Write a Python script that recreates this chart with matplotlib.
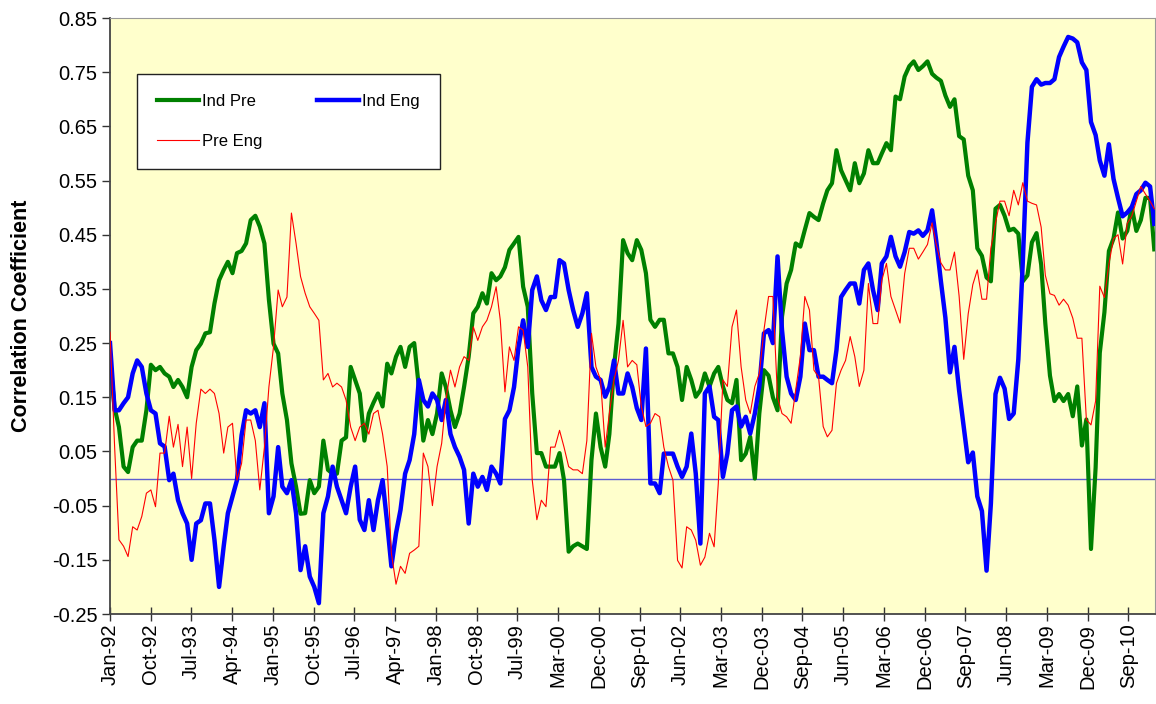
import matplotlib
matplotlib.use('Agg')
import matplotlib.pyplot as plt
import matplotlib.dates as mdates
import matplotlib.ticker as mticker
import pandas as pd

plt.rcParams['font.family'] = ['Liberation Sans', 'DejaVu Sans']

# monthly readings, Jan-92 .. Mar-11 (12 per line = one year)
ind_pre = [
    0.22, 0.13, 0.095, 0.022, 0.012, 0.058, 0.07, 0.07, 0.126, 0.21, 0.2, 0.206,
    0.194, 0.188, 0.169, 0.182, 0.169, 0.15, 0.206, 0.237, 0.249, 0.268, 0.27, 0.323,
    0.366, 0.385, 0.40, 0.379, 0.416, 0.42, 0.434, 0.477, 0.485, 0.465, 0.434, 0.33,
    0.249, 0.231, 0.157, 0.108, 0.028, -0.015, -0.065, -0.064, -0.003, -0.027, -0.015, 0.07,
    0.016, 0.009, 0.009, 0.07, 0.076, 0.206, 0.182, 0.157, 0.07, 0.12, 0.14, 0.157,
    0.133, 0.212, 0.194, 0.225, 0.243, 0.206, 0.243, 0.25, 0.169, 0.07, 0.108, 0.082,
    0.12, 0.194, 0.169, 0.126, 0.095, 0.12, 0.169, 0.225, 0.305, 0.317, 0.342, 0.323,
    0.379, 0.366, 0.373, 0.39, 0.422, 0.434, 0.446, 0.354, 0.317, 0.157, 0.047, 0.047,
    0.022, 0.022, 0.022, 0.047, -0.003, -0.135, -0.125, -0.12, -0.125, -0.13, 0.034, 0.12,
    0.058, 0.022, 0.082, 0.206, 0.286, 0.44, 0.416, 0.403, 0.44, 0.422, 0.379, 0.293,
    0.28, 0.293, 0.293, 0.231, 0.231, 0.206, 0.145, 0.206, 0.182, 0.151, 0.163, 0.194,
    0.17, 0.194, 0.206, 0.17, 0.145, 0.139, 0.182, 0.034, 0.046, 0.077, 0.0, 0.12,
    0.2, 0.19, 0.15, 0.126, 0.299, 0.36, 0.385, 0.434, 0.428, 0.459, 0.49, 0.483,
    0.477, 0.508, 0.532, 0.545, 0.606, 0.569, 0.551, 0.532, 0.582, 0.545, 0.563, 0.606,
    0.582, 0.582, 0.6, 0.619, 0.606, 0.705, 0.70, 0.742, 0.761, 0.77, 0.754, 0.761,
    0.77, 0.747, 0.74, 0.734, 0.707, 0.686, 0.70, 0.632, 0.626, 0.559, 0.532, 0.425,
    0.411, 0.371, 0.364, 0.498, 0.505, 0.485, 0.458, 0.461, 0.452, 0.364, 0.375, 0.436,
    0.453, 0.395, 0.286, 0.19, 0.143, 0.156, 0.143, 0.156, 0.115, 0.17, 0.061, 0.109,
    -0.13, 0.02, 0.232, 0.307, 0.42, 0.443, 0.491, 0.443, 0.457, 0.501, 0.457, 0.477,
    0.518, 0.518, 0.423,
]

ind_eng = [
    0.25, 0.126, 0.126, 0.139, 0.15, 0.194, 0.218, 0.206, 0.157, 0.126, 0.12, 0.065,
    0.059, -0.003, 0.009, -0.04, -0.064, -0.083, -0.15, -0.083, -0.077, -0.046, -0.046, -0.113,
    -0.2, -0.125, -0.064, -0.033, -0.003, 0.08, 0.126, 0.12, 0.126, 0.095, 0.139, -0.064,
    -0.033, 0.058, -0.015, -0.027, -0.003, -0.064, -0.169, -0.125, -0.181, -0.2, -0.23, -0.064,
    -0.033, 0.022, -0.015, -0.04, -0.064, -0.015, 0.022, -0.076, -0.095, -0.04, -0.095, -0.04,
    -0.003, -0.083, -0.162, -0.101, -0.058, 0.009, 0.034, 0.082, 0.182, 0.145, 0.133, 0.157,
    0.145, 0.108, 0.145, 0.082, 0.058, 0.04, 0.016, -0.083, 0.009, -0.015, 0.003, -0.021,
    0.022, 0.009, -0.009, 0.11, 0.126, 0.169, 0.243, 0.292, 0.243, 0.348, 0.373, 0.329,
    0.311, 0.335, 0.335, 0.403, 0.397, 0.348, 0.311, 0.28, 0.305, 0.342, 0.206, 0.188,
    0.182, 0.151, 0.169, 0.218, 0.157, 0.157, 0.194, 0.169, 0.13, 0.108, 0.24, -0.009,
    -0.009, -0.027, 0.046, 0.046, 0.046, 0.022, 0.003, 0.022, 0.083, 0.009, -0.12, 0.157,
    0.17, 0.114, 0.108, 0.003, 0.046, 0.126, 0.133, 0.096, 0.114, 0.083, 0.12, 0.17,
    0.268, 0.274, 0.25, 0.41, 0.274, 0.188, 0.157, 0.145, 0.188, 0.286, 0.237, 0.237,
    0.188, 0.188, 0.182, 0.176, 0.237, 0.335, 0.348, 0.36, 0.36, 0.323, 0.385, 0.397,
    0.348, 0.311, 0.397, 0.41, 0.446, 0.41, 0.391, 0.418, 0.455, 0.452, 0.458, 0.448,
    0.458, 0.495, 0.438, 0.364, 0.297, 0.196, 0.243, 0.163, 0.095, 0.03, 0.048, -0.033,
    -0.06, -0.17, -0.046, 0.156, 0.186, 0.166, 0.11, 0.12, 0.22, 0.40, 0.62, 0.723,
    0.737, 0.727, 0.73, 0.73, 0.737, 0.778, 0.797, 0.815, 0.812, 0.805, 0.768, 0.754,
    0.658, 0.634, 0.587, 0.559, 0.617, 0.553, 0.518, 0.484, 0.491, 0.501, 0.525, 0.532,
    0.546, 0.539, 0.47,
]

pre_eng = [
    0.27, 0.058, -0.113, -0.125, -0.144, -0.089, -0.095, -0.07, -0.027, -0.021, -0.052, 0.047,
    0.047, 0.115, 0.058, 0.1, 0.022, 0.095, 0.0, 0.102, 0.165, 0.157, 0.165, 0.157,
    0.12, 0.047, 0.095, 0.102, -0.003, 0.028, 0.108, 0.108, 0.07, -0.021, 0.058, 0.169,
    0.243, 0.348, 0.317, 0.335, 0.49, 0.434, 0.373, 0.342, 0.317, 0.305, 0.292, 0.182,
    0.194, 0.169, 0.176, 0.169, 0.145, 0.095, 0.07, 0.095, 0.102, 0.082, 0.12, 0.126,
    0.082, 0.022, -0.138, -0.195, -0.162, -0.175, -0.138, -0.132, -0.125, 0.047, 0.022, -0.05,
    0.022, 0.065, 0.145, 0.2, 0.169, 0.206, 0.225, 0.218, 0.28, 0.255, 0.28, 0.292,
    0.317, 0.354, 0.292, 0.16, 0.243, 0.218, 0.28, 0.274, 0.206, -0.003, -0.076, -0.04,
    -0.052, 0.058, 0.058, 0.089, 0.058, 0.022, 0.016, 0.016, 0.009, 0.07, 0.268, 0.206,
    0.182, 0.058, 0.12, 0.182, 0.218, 0.292, 0.206, 0.218, 0.21, 0.133, 0.096, 0.102,
    0.12, 0.114, 0.058, 0.022, -0.003, -0.151, -0.165, -0.089, -0.095, -0.114, -0.16, -0.145,
    -0.101, -0.126, -0.009, 0.182, 0.17, 0.28, 0.311, 0.206, 0.145, 0.12, 0.17, 0.194,
    0.274, 0.336, 0.336, 0.15, 0.12, 0.114, 0.102, 0.163, 0.225, 0.336, 0.311, 0.2,
    0.188, 0.096, 0.077, 0.089, 0.176, 0.2, 0.218, 0.262, 0.225, 0.17, 0.2, 0.36,
    0.286, 0.286, 0.366, 0.397, 0.336, 0.311, 0.287, 0.378, 0.425, 0.425, 0.405, 0.418,
    0.432, 0.472, 0.432, 0.398, 0.385, 0.385, 0.418, 0.337, 0.22, 0.304, 0.358, 0.385,
    0.331, 0.331, 0.425, 0.472, 0.512, 0.512, 0.485, 0.532, 0.505, 0.546, 0.512, 0.508,
    0.505, 0.464, 0.375, 0.341, 0.338, 0.32, 0.331, 0.32, 0.296, 0.259, 0.259, 0.109,
    0.099, 0.143, 0.355, 0.334, 0.396, 0.443, 0.45, 0.396, 0.471, 0.484, 0.512, 0.539,
    0.525, 0.512, 0.498,
]

start = pd.Timestamp('1992-01-10')
dates = pd.date_range('1992-01-01', periods=len(ind_pre), freq='MS') + pd.Timedelta(days=9)
# excel category axis: a label every 39 weeks
tick_dates = [start + pd.Timedelta(days=273 * k) for k in range(26)]
y_ticks = [-0.25, -0.15, -0.05, 0.05, 0.15, 0.25, 0.35, 0.45, 0.55, 0.65, 0.75, 0.85]

fig = plt.figure(figsize=(11.56, 7.04), dpi=100)
ax = fig.add_axes([110 / 1156, 1 - 614 / 704, 1045 / 1156, 596 / 704])
ax.set_facecolor('#FFFFCC')

ax.axhline(0, color='#5C5CD0', lw=1.0, zorder=1)
l1, = ax.plot(dates, ind_pre, color='#008000', lw=3.0, label='Ind Pre', zorder=3,
              solid_joinstyle='round')
l2, = ax.plot(dates, ind_eng, color='#0000FF', lw=3.2, label='Ind Eng', zorder=4,
              solid_joinstyle='round')
l3, = ax.plot(dates, pre_eng, color='#FF0000', lw=0.8, label='Pre Eng', zorder=5)

ax.set_xlim(dates[0], dates[-1] + pd.Timedelta(days=5))
ax.set_ylim(-0.25, 0.85)

ax.set_xticks(tick_dates)
ax.xaxis.set_major_formatter(mdates.DateFormatter('%b-%y'))
ax.set_yticks(y_ticks)
ax.yaxis.set_major_formatter(mticker.FormatStrFormatter('%.2f'))
ax.tick_params(axis='x', direction='inout', length=10, width=1, labelsize=14.5,
               labelrotation=90, pad=2, color='#333333')
ax.tick_params(axis='y', direction='out', length=6, width=1, labelsize=14.5, pad=3,
               color='#333333')

for side in ['left', 'bottom']:
    ax.spines[side].set_color('#444444')
    ax.spines[side].set_linewidth(1.3)
for side in ['top', 'right']:
    ax.spines[side].set_color('#999999')
    ax.spines[side].set_linewidth(0.8)

ax.set_ylabel('Correlation Coefficient', fontsize=15.5, fontweight='bold', labelpad=14)

leg = ax.legend([l1, l3, l2], ['Ind Pre', 'Pre Eng', 'Ind Eng'], ncol=2,
                loc='upper left', bbox_to_anchor=(0.0258, 0.906), borderaxespad=0,
                fontsize=12, handlelength=2.5, handletextpad=0.2, columnspacing=3.3,
                labelspacing=1.5, borderpad=1.2, fancybox=False, framealpha=1)
leg.get_frame().set_edgecolor('#222222')
leg.get_frame().set_linewidth(1.0)

fig.savefig('out.png', dpi=100)
